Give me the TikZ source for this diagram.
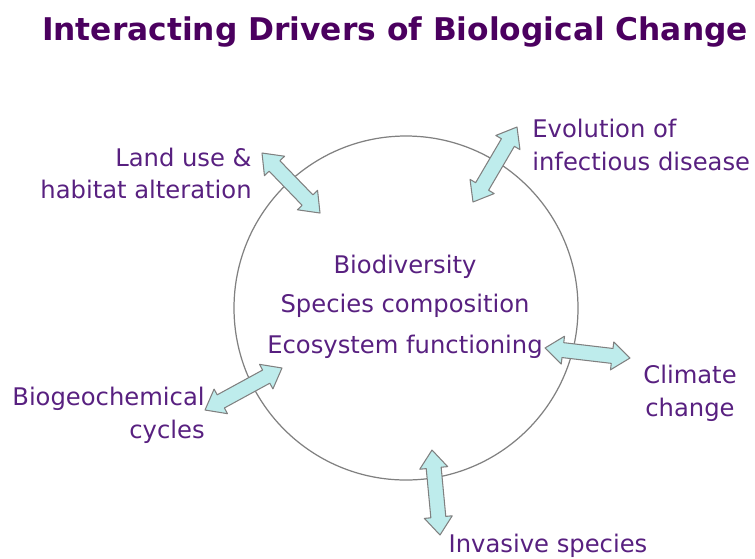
\documentclass[tikz,border=0pt]{standalone}
\usepackage{fontspec}
\setmainfont{DejaVu Sans}
\usetikzlibrary{calc}

\definecolor{titlepurple}{RGB}{75,0,95}
\definecolor{textpurple}{RGB}{88,32,128}
\definecolor{arrowfill}{RGB}{190,236,236}

\tikzset{
    driver/.style={text=textpurple, inner sep=0pt, font=\fontsize{13.8}{18.7}\selectfont},
    fatarrow/.style={draw=gray, fill=arrowfill, line width=0.6pt, line join=round}
}

% two-headed block arrow between two named coordinates
\newcommand{\bioarrow}[2]{%
    \draw [fatarrow] (#1)
        -- ($(#1)!0.36cm!(#2)!0.28cm!-90:(#2)$) -- ($(#1)!0.36cm!(#2)!0.15cm!-90:(#2)$)
        -- ($(#2)!0.36cm!(#1)!0.15cm!90:(#1)$) -- ($(#2)!0.36cm!(#1)!0.28cm!90:(#1)$)
        -- (#2)
        -- ($(#2)!0.36cm!(#1)!0.28cm!-90:(#1)$) -- ($(#2)!0.36cm!(#1)!0.15cm!-90:(#1)$)
        -- ($(#1)!0.36cm!(#2)!0.15cm!90:(#2)$) -- ($(#1)!0.36cm!(#2)!0.28cm!90:(#2)$)
        -- cycle;}

\begin{document}
\begin{tikzpicture}

        \useasboundingbox (0,0) rectangle (15.1,-11.16);

        % Title
        \node at (7.9,-0.64) [text centered, text=titlepurple, font=\fontsize{17.8}{21}\selectfont\bfseries] (title) {Interacting Drivers of Biological Change};

        % Central circle
        \draw [color=gray, line width=0.7pt] (8.12,-6.16) circle (3.44);
        \node at (8.1,-5.34) [driver] (bio) {Biodiversity};
        \node at (8.1,-6.12) [driver] (species) {Species composition};
        \node at (8.1,-6.94) [driver] (ecosys) {Ecosystem functioning};

        % Drivers
        \node at (5.04,-3.47) [driver, anchor=east, align=right] (land) {Land use \&\\habitat alteration};
        \node at (10.64,-2.9) [driver, anchor=west, align=left] (evol) {Evolution of\\infectious disease};
        \node at (13.8,-7.86) [driver, align=center] (climate) {Climate\\change};
        \node at (4.1,-8.3) [driver, anchor=east, align=right] (biogeo) {Biogeochemical\\cycles};
        \node at (10.96,-10.92) [driver] (invasive) {Invasive species};

        % Arrow ends
        \coordinate (land a) at (5.24,-3.06);   \coordinate (land b) at (6.4,-4.26);
        \coordinate (evol a) at (10.34,-2.54);  \coordinate (evol b) at (9.46,-4.04);
        \coordinate (clim a) at (10.9,-6.96);   \coordinate (clim b) at (12.6,-7.16);
        \coordinate (bgc a) at (4.1,-8.2);      \coordinate (bgc b) at (5.64,-7.36);
        \coordinate (inv a) at (8.64,-9.0);     \coordinate (inv b) at (8.8,-10.7);

        % Interaction arrows
        \bioarrow{land a}{land b}
        \bioarrow{evol a}{evol b}
        \bioarrow{clim a}{clim b}
        \bioarrow{bgc a}{bgc b}
        \bioarrow{inv a}{inv b}

\end{tikzpicture}
\end{document}
